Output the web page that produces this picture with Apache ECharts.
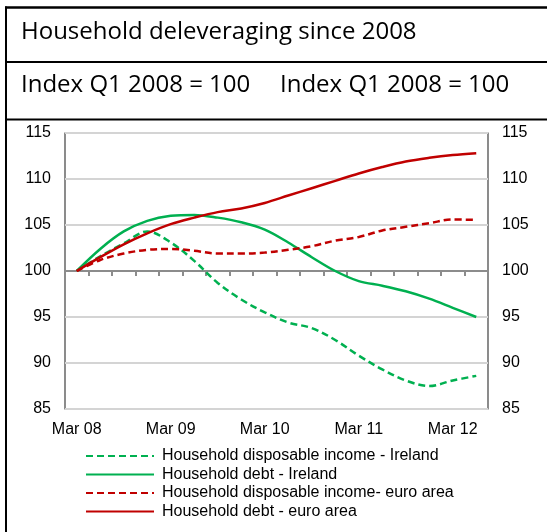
<!DOCTYPE html>
<html>
<head>
<meta charset="utf-8">
<script src="https://cdn.jsdelivr.net/npm/echarts@6/dist/echarts.min.js"></script>
<style>
html,body{margin:0;padding:0;background:#fff;}
#chart{width:547px;height:532px;}
</style>
</head>
<body>
<div id="chart"></div>
<script>
var categories = ['Mar 08','Jun 08','Sep 08','Dec 08','Mar 09','Jun 09','Sep 09','Dec 09','Mar 10','Jun 10','Sep 10','Dec 10','Mar 11','Jun 11','Sep 11','Dec 11','Mar 12','Jun 12'];
var incomeIreland = [100,101.6,103.0,104.3,103.1,101.1,98.7,96.9,95.5,94.4,93.8,92.5,90.8,89.3,88.1,87.5,88.1,88.6];
var debtIreland   = [100,102.4,104.3,105.45,106.0,106.1,105.8,105.3,104.5,103.1,101.5,100.0,98.9,98.4,97.8,97.0,96.0,95.0];
var incomeEuro    = [100,101.2,101.9,102.3,102.4,102.2,101.9,101.9,102.0,102.3,102.7,103.3,103.7,104.4,104.8,105.2,105.6,105.55];
var debtEuro      = [100,101.5,102.9,104.1,105.1,105.8,106.4,106.8,107.4,108.2,109.0,109.8,110.6,111.3,111.9,112.3,112.6,112.8];
var seriesNames = ['Household disposable income - Ireland','Household debt - Ireland','Household disposable income- euro area','Household debt - euro area'];
var yTicks = {min:85, max:115, interval:5};
var titleText = 'Household deleveraging since 2008';
var subtitleLeft = 'Index Q1 2008 = 100';
var subtitleRight = 'Index Q1 2008 = 100';

var GREEN = '#00B050', RED = '#C00000';
var gridTop = 133, gridBottom = 123, gridLeft = 65, gridRight = 59;
var gridH = 532 - gridTop - gridBottom;
var axisOffset = -gridH * (100 - yTicks.min) / (yTicks.max - yTicks.min);

var chart = echarts.init(document.getElementById('chart'));
var font = 'Liberation Sans, Arial, sans-serif';
var titleFont = '24px "Open Sans", sans-serif';
function mk(name, data, color, dashed) {
  return {
    name: name, type: 'line', data: data, smooth: 0.35,
    symbol: 'none', showSymbol: false,
    lineStyle: {color: color, width: 2.5, type: dashed ? [7, 4] : 'solid'},
    itemStyle: {color: color}, z: 3
  };
}
var yAxisCommon = {
  type: 'value', min: yTicks.min, max: yTicks.max, interval: yTicks.interval,
  axisLine: {show: false}, axisTick: {show: false},
  axisLabel: {color: '#000', fontSize: 16, fontFamily: font, margin: 14}
};
chart.setOption({
  animation: false,
  backgroundColor: '#fff',
  grid: {left: gridLeft, right: gridRight, top: gridTop, bottom: gridBottom, show: true, borderColor: '#404040', borderWidth: 1.2, backgroundColor: 'transparent'},
  xAxis: [{
    type: 'category', data: categories, boundaryGap: true, position: 'bottom',
    axisLine: {show: false}, axisTick: {show: false},
    axisLabel: {interval: 3, color: '#000', fontSize: 16, fontFamily: font, margin: 13}
  }, {
    type: 'category', data: categories, boundaryGap: true, position: 'bottom', offset: axisOffset,
    axisLine: {show: true, lineStyle: {color: '#8c8c8c', width: 2}},
    axisTick: {show: true, interval: 0, inside: false, length: 5, lineStyle: {color: '#8c8c8c', width: 2}},
    axisLabel: {show: false}, z: 2
  }],
  yAxis: [
    Object.assign({}, yAxisCommon, {position: 'left', splitLine: {show: true, lineStyle: {color: '#d4d4d4', width: 2}}}),
    Object.assign({}, yAxisCommon, {position: 'right', splitLine: {show: false}})
  ],
  legend: {
    orient: 'vertical', left: 85, top: 448, padding: 0, itemWidth: 68, itemHeight: 12, itemGap: 2.5,
    itemStyle: {opacity: 0},
    textStyle: {color: '#000', fontSize: 16, fontFamily: font, lineHeight: 16, padding: [0, 0, 0, 3]},
    data: seriesNames
  },
  series: [
    mk(seriesNames[0], incomeIreland, GREEN, true),
    mk(seriesNames[1], debtIreland, GREEN, false),
    mk(seriesNames[2], incomeEuro, RED, true),
    mk(seriesNames[3], debtEuro, RED, false)
  ],
  graphic: [
    {type: 'line', shape: {x1: 5, y1: 7.5, x2: 547, y2: 7.5}, style: {stroke: '#000', lineWidth: 2.5}},
    {type: 'line', shape: {x1: 5, y1: 62, x2: 547, y2: 62}, style: {stroke: '#000', lineWidth: 2}},
    {type: 'line', shape: {x1: 5, y1: 119.5, x2: 547, y2: 119.5}, style: {stroke: '#000', lineWidth: 2}},
    {type: 'line', shape: {x1: 6, y1: 6.5, x2: 6, y2: 532}, style: {stroke: '#000', lineWidth: 2}},
    {type: 'text', x: 21, y: 32, style: {text: titleText, fill: '#000', font: titleFont, verticalAlign: 'middle'}},
    {type: 'text', x: 21, y: 85, style: {text: subtitleLeft, fill: '#000', font: titleFont, verticalAlign: 'middle'}},
    {type: 'text', x: 280, y: 85, style: {text: subtitleRight, fill: '#000', font: titleFont, verticalAlign: 'middle'}}
  ]
});
</script>
</body>
</html>
